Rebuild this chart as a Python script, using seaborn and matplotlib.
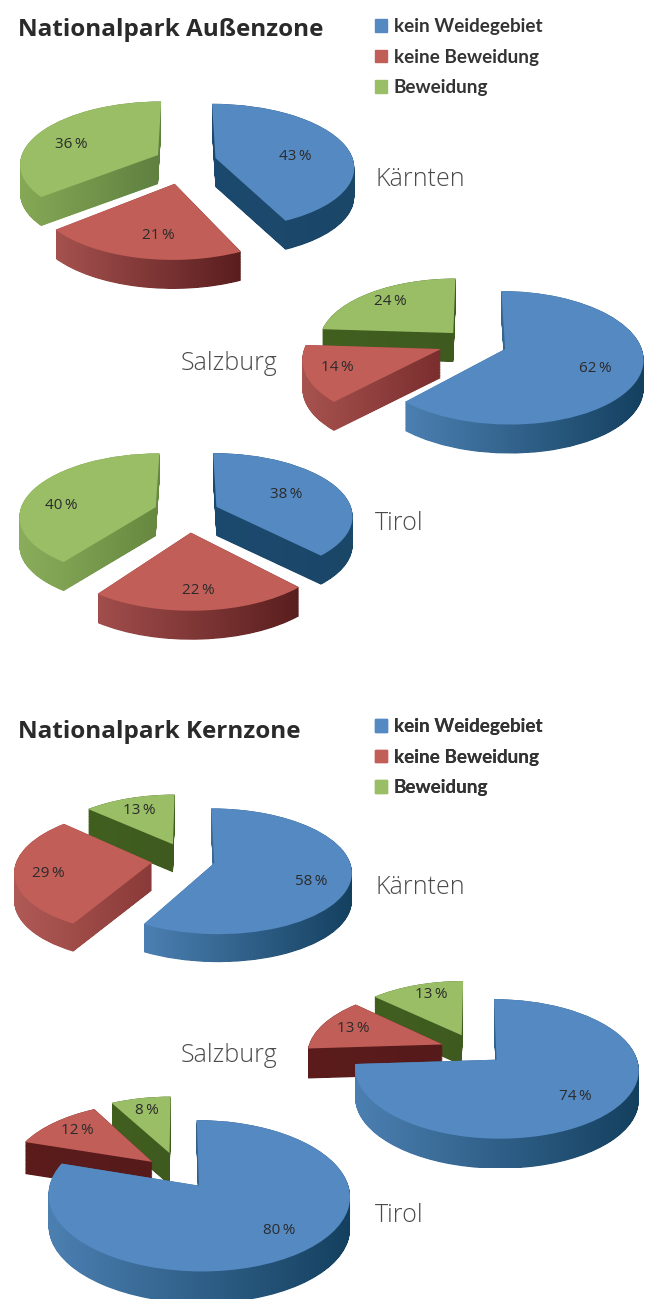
import numpy as np
import seaborn as sns
import matplotlib.pyplot as plt
from matplotlib.colors import LinearSegmentedColormap
from matplotlib.patches import Patch, PathPatch
from matplotlib.path import Path

W, H = 662, 1299

categories = ["kein Weidegebiet", "keine Beweidung", "Beweidung"]
zones = ["Nationalpark Außenzone", "Nationalpark Kernzone"]
states = ["Kärnten", "Salzburg", "Tirol"]

aussen_kaernten = [43, 21, 36]
aussen_salzburg = [62, 14, 24]
aussen_tirol = [38, 22, 40]
kern_kaernten = [58, 29, 13]
kern_salzburg = [74, 13, 13]
kern_tirol = [80, 12, 8]

sns.set_theme(style="white")
plt.rcParams["font.family"] = ["Open Sans", "DejaVu Sans"]
top_colors = sns.color_palette(["#5589C2", "#C25E58", "#99BE66"])

BLUE_GRAD = ("#4C80B2", "#14405F")
BLUE_DARK = ("#1C4A6E", "#1A4668")
DARK_GREEN = ("#41601F", "#3F5A20")
DARK_RED = ("#5C1C1C", "#561A1A")
TILT = 0.13  # nearer part of a pie looks bigger than the far part

# panel = x0,y0,x1,y1 in pixels, centre and radii of the pie in pixels
pies = [
    dict(values=aussen_kaernten, panel=(5, 75, 385, 330), c=(186, 161), r=(138, 62), depth=29,
         explode=[.22, .36, .227], shrink=[1, .97, 1],
         sides=[BLUE_DARK, ("#A5524F", "#5A1D1E"), ("#86A956", "#5F8040")],
         pos=[(295, 156), (158, 235), (71, 144)]),
    dict(values=aussen_salzburg, panel=(300, 266, 662, 475), c=(473, 343), r=(135, 64), depth=29,
         explode=[.253, .253, .218], shrink=[1, 1, 1],
         sides=[BLUE_GRAD, ("#A85350", "#7A2E2D"), DARK_GREEN],
         pos=[(595, 368), (337, 367), (390, 301)]),
    dict(values=aussen_tirol, panel=(3, 423, 355, 657), c=(188, 512), r=(136, 62), depth=29,
         explode=[.227, .32, .252], shrink=[1, 1, 1],
         sides=[BLUE_DARK, ("#A14E4C", "#5A1E1E"), ("#8AAE5C", "#66883F")],
         pos=[(286, 494), (198, 590), (61, 505)]),
    dict(values=kern_kaernten, panel=(5, 780, 355, 983), c=(188, 860), r=(135, 61), depth=28,
         explode=[.2, .27, .29], shrink=[1, 1, .98],
         sides=[BLUE_GRAD, ("#B05A56", "#8A3A38"), DARK_GREEN],
         pos=[(311, 881), (48, 873), (139, 810)]),
    dict(values=kern_salzburg, panel=(302, 958, 662, 1168), c=(475, 1050), r=(138, 66), depth=30,
         explode=[.21, .25, .25], shrink=[1, .98, .98],
         sides=[BLUE_GRAD, DARK_RED, DARK_GREEN],
         pos=[(575, 1096), (353, 1028), (431, 994)]),
    dict(values=kern_tirol, panel=(3, 1087, 355, 1299), c=(180, 1173), r=(146, 71), depth=32,
         explode=[.216, .25, .3], shrink=[1, .98, .96],
         sides=[BLUE_GRAD, DARK_RED, DARK_GREEN],
         pos=[(279, 1230), (77, 1130), (147, 1111)]),
]

fig = plt.figure(figsize=(W / 100, H / 100), dpi=100, facecolor="white")


def tilt_path(path):
    v = path.vertices
    s = 1 / (1 + TILT * v[:, 1])
    return Path(v * s[:, None], path.codes)


for p in pies:
    x0, y0, x1, y1 = p["panel"]
    cx, cy = p["c"]
    rx, ry = p["r"]
    ax = fig.add_axes([x0 / W, 1 - y1 / H, (x1 - x0) / W, (y1 - y0) / H], facecolor="#FBFCFD")
    wedges, _ = ax.pie(p["values"], colors=top_colors, startangle=90, counterclock=False,
                       explode=p["explode"], radius=1, wedgeprops=dict(linewidth=0))
    ax.set_aspect("auto")
    xlim = ((x0 - cx) / rx, (x1 - cx) / rx)
    ylim = ((cy - y1) / ry, (cy - y0) / ry)
    drop = p["depth"] / ry
    # green first, blue last, so the nearer slice covers the side of the one behind
    for i in [2, 1, 0]:
        w = wedges[i]
        w.set_radius(p["shrink"][i])
        base = tilt_path(w.get_path())
        w.set_visible(False)
        ax.add_patch(PathPatch(base, facecolor=top_colors[i], linewidth=0, zorder=2 * (3 - i) + 2))
        layers = [Path(base.vertices - [0, d], base.codes) for d in np.linspace(0, drop, 40)]
        body = Path.make_compound_path(*layers)
        left = base.vertices[:, 0].min()
        right = base.vertices[:, 0].max()
        cmap = LinearSegmentedColormap.from_list("side", p["sides"][i])
        im = ax.imshow(np.linspace(0, 1, 256).reshape(1, -1), cmap=cmap, aspect="auto",
                       extent=(left, right, ylim[0], ylim[1]), zorder=2 * (3 - i) + 1)
        im.set_clip_path(body, transform=ax.transData)
    ax.set_xlim(xlim)
    ax.set_ylim(ylim)
    ax.axis("on")
    ax.set_xticks([])
    ax.set_yticks([])
    for s in ax.spines.values():
        s.set_visible(False)

# text layer in pixel coordinates
ov = fig.add_axes([0, 0, 1, 1], facecolor="none")
ov.set_xlim(0, W)
ov.set_ylim(H, 0)
ov.axis("off")

for p in pies:
    for v, (x, y) in zip(p["values"], p["pos"]):
        ov.text(x, y, f"{v}\u2009%", ha="center", va="center", fontsize=11, color="#2B2B2B")

for name, y, x in zip(states * 2, [179, 363, 523, 887, 1055, 1216], [375, 181, 375] * 2):
    ov.text(x, y, name, ha="left", va="center", fontsize=18, fontweight="light", color="#4A4A4A")

for zone, y, ly in zip(zones, [30, 732], [18, 718]):
    ov.text(18, y, zone, ha="left", va="center", fontsize=17.5, fontweight="bold", color="#2A2A2A")
    handles = [Patch(color=c, label=n) for c, n in zip(top_colors, categories)]
    leg = ov.legend(handles=handles, loc="upper left", bbox_to_anchor=(375, ly),
                    bbox_transform=ov.transData, frameon=False, borderpad=0, borderaxespad=0,
                    handlelength=0.66, handleheight=0.66, handletextpad=0.33, labelspacing=0.72,
                    prop=dict(family="Lato", weight="bold", size=13.6), labelcolor="#333333")
    ov.add_artist(leg)

fig.savefig("out.png", dpi=100)
